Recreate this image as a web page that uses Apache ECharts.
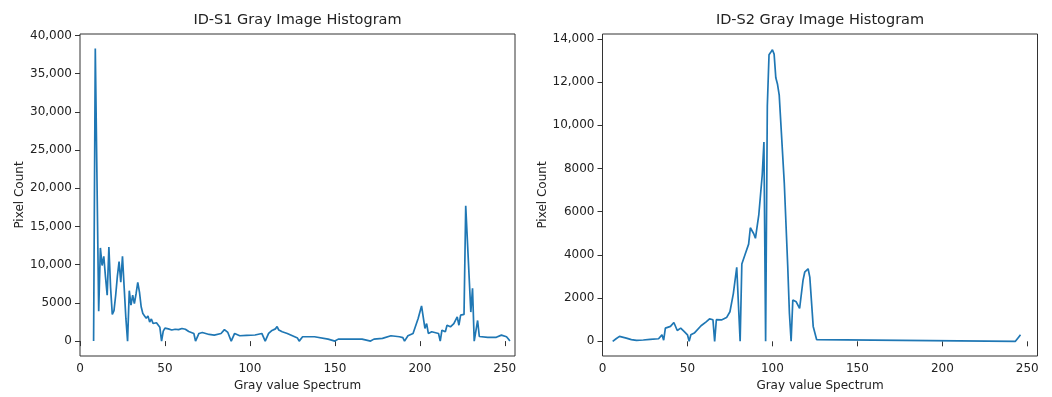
<!DOCTYPE html>
<html>
<head>
<meta charset="utf-8">
<script src="https://cdn.jsdelivr.net/npm/echarts@6/dist/echarts.min.js"></script>
<style>
  html, body { margin: 0; padding: 0; background: #fff; }
  #chart { width: 1052px; height: 397px; }
</style>
</head>
<body>
<div id="chart"></div>
<script>
// gray level (x) and pixel count (y)
const grayS1 = [8, 9, 11, 12, 13, 14, 15, 16, 17, 18, 19, 20, 21, 22, 23, 24, 25, 26, 27, 28,
  29, 30, 31, 32, 33, 34, 35, 36, 37, 38, 39, 40, 41, 42, 43, 44, 45, 46, 47, 48,
  49, 50, 52, 54, 56, 58, 60, 62, 64, 67, 68, 70, 72, 74, 76, 79, 83, 85, 86, 87,
  88, 89, 91, 94, 98, 103, 107, 108, 109, 111, 113, 115, 116, 117, 118, 119, 122, 124, 126, 128,
  129, 131, 138, 146, 150, 152, 166, 171, 173, 178, 183, 188, 190, 191, 193, 196, 197, 199, 201, 202,
  203, 204, 205, 207, 211, 212, 213, 215, 216, 218, 220, 222, 223, 224, 225, 226, 227, 230, 231, 232,
  234, 235, 240, 245, 248, 251, 252, 253]
const countS1 = [0, 38300, 3900, 12200, 9900, 11100, 8400, 6000, 12300, 7000, 3500, 4000, 6000, 8500, 10400, 7700, 11100, 7000, 3000, 0,
  6600, 4700, 6000, 4900, 6200, 7700, 6400, 4500, 3600, 3300, 3000, 3300, 2500, 2900, 2300, 2500, 2400, 2100, 1800, 0,
  1300, 1700, 1600, 1450, 1550, 1500, 1650, 1550, 1250, 1000, 0, 1000, 1130, 1000, 870, 780, 1000, 1500, 1400, 1130,
  900, 0, 1000, 700, 750, 800, 1000, 900, 0, 1000, 1400, 1600, 1900, 1450, 1700, 1220, 1000, 800, 600, 400,
  0, 570, 570, 260, 0, 260, 260, 0, 260, 350, 700, 570, 450, 0, 700, 1000, 1220, 2960, 4600, 4700,
  1650, 2300, 1000, 1220, 1000, 0, 1430, 1220, 2080, 1870, 2300, 3180, 2080, 3400, 3600, 3500, 17700, 3800, 6900, 0,
  2700, 600, 500, 500, 780, 570, 300, 0]

const grayS2 = [6, 8, 10, 11, 14, 17, 20, 24, 28, 33, 35, 36, 37, 40, 42, 44, 46, 48, 50, 51,
  52, 54, 58, 61, 63, 65, 66, 67, 70, 73, 75, 77, 79, 80, 81, 82, 83, 84, 86, 87,
  89, 90, 92, 94, 95, 96, 97, 98, 99, 100, 101, 102, 103, 104, 107, 109, 110, 111, 112, 113,
  114, 116, 118, 119, 121, 122, 124, 126, 127, 243, 245, 246]
const countS2 = [0, 120, 230, 240, 150, 80, 45, 60, 90, 120, 300, 50, 610, 690, 870, 500, 610, 460, 300, 0,
  300, 380, 720, 900, 1040, 1000, 0, 1000, 990, 1100, 1370, 2210, 3430, 3500, 0, 3580, 3580, 4040, 4500, 5260,
  4980, 4770, 5870, 7700, 9230, 0, 10900, 13270, 13380, 13500, 13300, 12200, 11900, 11400, 7300, 3500, 1300, 0, 1910, 1880,
  1830, 1520, 2820, 3200, 3360, 2970, 690, 80, 0, 0, 200, 300]

const xTicks = [0, 50, 100, 150, 200, 250]
const yTicksS1 = [0, 5000, 10000, 15000, 20000, 25000, 30000, 35000, 40000]
const yLabelsS1 = ['0', '5000', '10,000', '15,000', '20,000', '25,000', '30,000', '35,000', '40,000']
const yTicksS2 = [0, 2000, 4000, 6000, 8000, 10000, 12000, 14000]
const yLabelsS2 = ['0', '2000', '4000', '6000', '8000', '10,000', '12,000', '14,000']

const FONT = 'DejaVu Sans'
const TEXT = '#222'
const FRAME = '#333'

function zip (xs, ys) {
  return xs.map((x, i) => [x, ys[i]])
}

function xAxisOf (gridIndex) {
  return {
    type: 'value',
    gridIndex: gridIndex,
    min: 0,
    max: 256,
    name: 'Gray value Spectrum',
    nameLocation: 'middle',
    nameGap: 24,
    nameTextStyle: { fontFamily: FONT, fontSize: 12, color: TEXT },
    axisLine: { show: false },
    splitLine: { show: false },
    axisTick: { show: true, customValues: xTicks, length: 5, lineStyle: { color: FRAME } },
    axisLabel: { customValues: xTicks, margin: 7, fontFamily: FONT, fontSize: 12, color: TEXT }
  }
}

function yAxisOf (gridIndex, min, max, ticks, labels) {
  return {
    type: 'value',
    gridIndex: gridIndex,
    min: min,
    max: max,
    name: 'Pixel Count',
    nameLocation: 'middle',
    nameGap: 54,
    nameTextStyle: { fontFamily: FONT, fontSize: 12, color: TEXT },
    axisLine: { show: false },
    splitLine: { show: false },
    axisTick: { show: true, customValues: ticks, length: 5, lineStyle: { color: FRAME } },
    axisLabel: {
      customValues: ticks,
      margin: 8,
      fontFamily: FONT,
      fontSize: 12,
      color: TEXT,
      formatter: function (v) {
        const i = ticks.indexOf(v)
        return i >= 0 ? labels[i] : ''
      }
    }
  }
}

const chart = echarts.init(document.getElementById('chart'), null, { renderer: 'canvas' })

chart.setOption({
  animation: false,
  backgroundColor: '#fff',
  title: [
    { text: 'ID-S1 Gray Image Histogram', left: 297.5, top: 13, textAlign: 'center', padding: 0,
      textStyle: { fontFamily: FONT, fontSize: 14.5, fontWeight: 'normal', color: TEXT } },
    { text: 'ID-S2 Gray Image Histogram', left: 820, top: 13, textAlign: 'center', padding: 0,
      textStyle: { fontFamily: FONT, fontSize: 14.5, fontWeight: 'normal', color: TEXT } }
  ],
  grid: [
    { left: 80, top: 34, width: 435, height: 324, show: true, borderColor: FRAME, borderWidth: 1, backgroundColor: 'transparent' },
    { left: 602.5, top: 34, width: 435, height: 325, show: true, borderColor: FRAME, borderWidth: 1, backgroundColor: 'transparent' }
  ],
  xAxis: [xAxisOf(0), xAxisOf(1)],
  yAxis: [
    yAxisOf(0, -1950, 40200, yTicksS1, yLabelsS1),
    yAxisOf(1, -680, 14230, yTicksS2, yLabelsS2)
  ],
  series: [
    {
      name: 'ID-S1',
      type: 'line',
      xAxisIndex: 0,
      yAxisIndex: 0,
      data: zip(grayS1, countS1),
      showSymbol: false,
      lineStyle: { color: '#1f77b4', width: 1.7 }
    },
    {
      name: 'ID-S2',
      type: 'line',
      xAxisIndex: 1,
      yAxisIndex: 1,
      data: zip(grayS2, countS2),
      showSymbol: false,
      lineStyle: { color: '#1f77b4', width: 1.7 }
    }
  ]
})
</script>
</body>
</html>
